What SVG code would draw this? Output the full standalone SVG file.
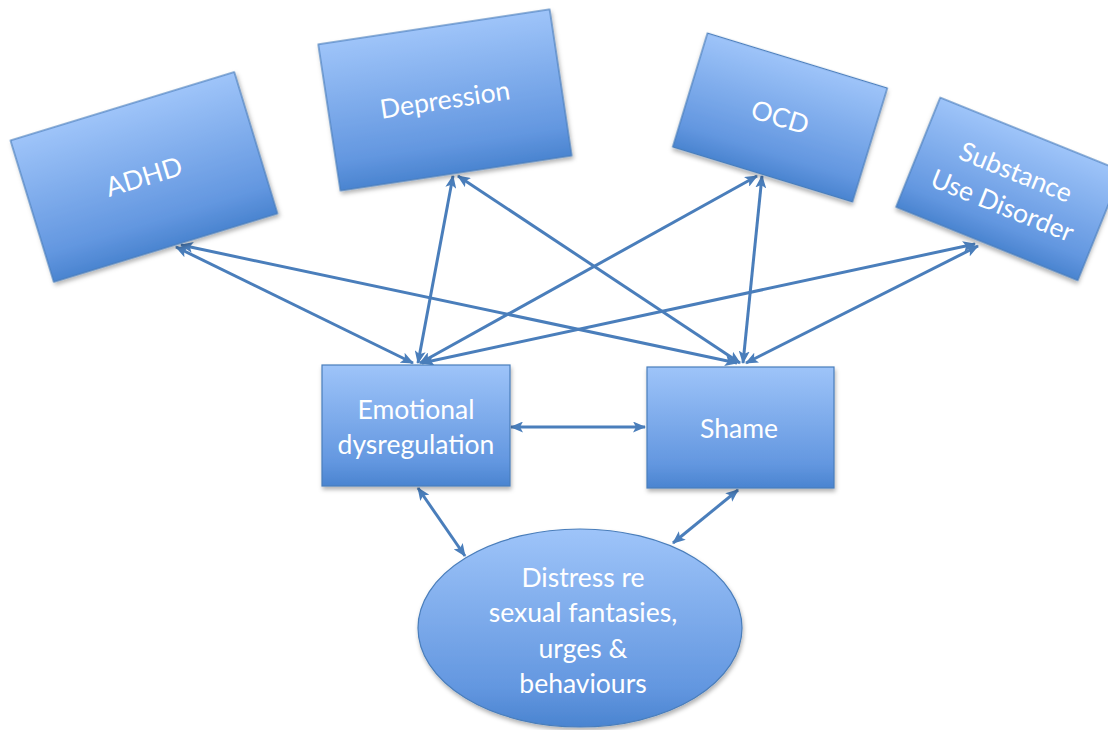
<svg xmlns="http://www.w3.org/2000/svg" width="1108" height="730" viewBox="0 0 1108 730">
<style>
.box{fill:url(#g);stroke:#4a7ebb;stroke-width:1.2;filter:url(#sh)}
.t{font-family:Lato,"Open Sans","Liberation Sans",sans-serif;font-size:26.5px;fill:#ffffff;text-anchor:middle}
.c{stroke:#4a7ebb;stroke-width:3;fill:none;marker-start:url(#ah);marker-end:url(#ah)}
</style>
<defs>
<linearGradient id="g" x1="0" y1="0" x2="0" y2="1">
<stop offset="0" stop-color="#9ec4f9"/>
<stop offset="0.8" stop-color="#6397e0"/>
<stop offset="1" stop-color="#4a84d0"/>
</linearGradient>
<filter id="sh" x="-10%" y="-10%" width="125%" height="130%">
<feDropShadow dx="1" dy="3" stdDeviation="2" flood-color="#000" flood-opacity="0.3"/>
</filter>
<marker id="ah" viewBox="0 0 13 11" refX="12" refY="5.5" markerWidth="13" markerHeight="11" markerUnits="userSpaceOnUse" orient="auto-start-reverse">
<path d="M0,0 L13,5.5 L0,11 L3,5.5 z" fill="#4a7ebb"/>
</marker>
</defs>
<rect width="1108" height="730" fill="#ffffff"/>
<g id="connectors">
<line class="c" x1="176" y1="247" x2="413" y2="363"/>
<line class="c" x1="181" y1="245" x2="737" y2="363"/>
<line class="c" x1="453" y1="176" x2="418" y2="363"/>
<line class="c" x1="458" y1="176" x2="740" y2="363"/>
<line class="c" x1="757" y1="176" x2="420" y2="363"/>
<line class="c" x1="762" y1="176" x2="743" y2="363"/>
<line class="c" x1="975" y1="244" x2="422" y2="363"/>
<line class="c" x1="978" y1="246" x2="746" y2="363"/>
<line class="c" x1="511" y1="427" x2="645" y2="427"/>
<line class="c" x1="418" y1="488" x2="465" y2="556"/>
<line class="c" x1="738" y1="490" x2="673" y2="543"/>
</g>
<g id="adhd" transform="translate(144,177) rotate(-17)">
<rect class="box" x="-117" y="-74" width="234" height="148"/>
<text class="t" x="0" y="9">ADHD</text>
</g>
<g id="depression" transform="translate(445,100) rotate(-8.6)">
<rect class="box" x="-117" y="-74" width="234" height="148"/>
<text class="t" x="0" y="9">Depression</text>
</g>
<g id="ocd" transform="translate(780,117.5) rotate(17)">
<rect class="box" x="-94" y="-59.5" width="188" height="119"/>
<text class="t" x="0" y="9">OCD</text>
</g>
<g id="substance" transform="translate(1009,189) rotate(22)">
<rect class="box" x="-98" y="-59" width="196" height="118"/>
<text class="t" x="0" y="-9">Substance</text>
<text class="t" x="0" y="27">Use Disorder</text>
</g>
<g id="emotional">
<rect class="box" x="322" y="365" width="188" height="121"/>
<text class="t" x="416" y="419">Emotional</text>
<text class="t" x="416" y="454">dysregulation</text>
</g>
<g id="shame">
<rect class="box" x="647" y="367" width="187" height="121"/>
<text class="t" x="739" y="438">Shame</text>
</g>
<g id="distress">
<ellipse class="box" cx="580" cy="628" rx="162" ry="99"/>
<text class="t" x="583" y="587">Distress re</text>
<text class="t" x="583" y="622">sexual fantasies,</text>
<text class="t" x="583" y="658">urges &amp;</text>
<text class="t" x="583" y="693">behaviours</text>
</g>
</svg>
